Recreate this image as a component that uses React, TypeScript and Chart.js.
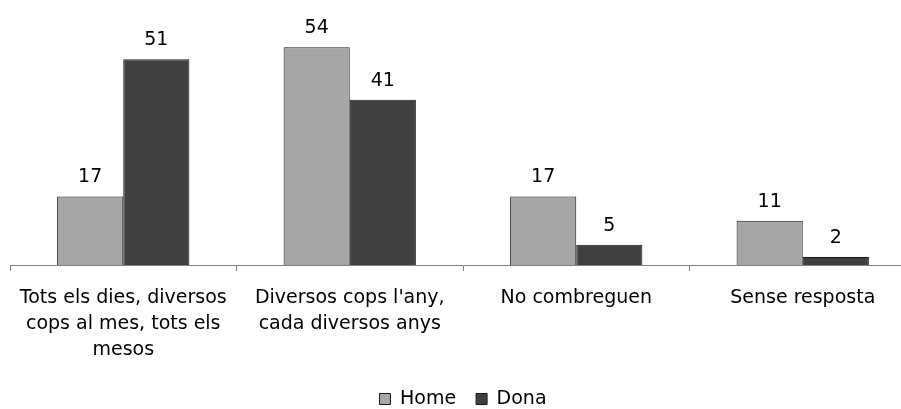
import React, { useEffect, useRef } from "react";
import { Chart, registerables } from "chart.js";

Chart.register(...registerables);

const categories: string[][] = [
  ["Tots els dies, diversos", "cops al mes, tots els", "mesos"],
  ["Diversos cops l'any,", "cada diversos anys"],
  ["No combreguen"],
  ["Sense resposta"],
];
const homeValues = [17, 54, 17, 11];
const donaValues = [51, 41, 5, 2];
const seriesNames = ["Home", "Dona"];

const FONT = "'DejaVu Sans', sans-serif";

const valueLabels = {
  id: "valueLabels",
  afterDatasetsDraw(chart: any) {
    const ctx = chart.ctx;
    ctx.save();
    ctx.font = `19px ${FONT}`;
    ctx.fillStyle = "#000";
    ctx.textAlign = "center";
    ctx.textBaseline = "alphabetic";
    chart.data.datasets.forEach((ds: any, i: number) => {
      const meta = chart.getDatasetMeta(i);
      meta.data.forEach((bar: any, j: number) => {
        ctx.fillText(String(ds.data[j]), bar.x, bar.y - 14);
      });
    });
    ctx.restore();
  },
};

export default function App() {
  const ref = useRef<HTMLCanvasElement | null>(null);
  useEffect(() => {
    if (!ref.current) return;
    const chart = new Chart(ref.current, {
      type: "bar",
      data: {
        labels: categories,
        datasets: [
          {
            label: seriesNames[0],
            data: homeValues,
            backgroundColor: "#a6a6a6",
            borderColor: "#1a1a1a",
            borderWidth: 1,
          },
          {
            label: seriesNames[1],
            data: donaValues,
            backgroundColor: "#404040",
            borderColor: "#1a1a1a",
            borderWidth: 1,
          },
        ],
      },
      options: {
        responsive: false,
        animation: false,
        layout: { padding: { left: 10, right: 10, top: 23, bottom: -9.5 } },
        datasets: {
          bar: { categoryPercentage: 0.584, barPercentage: 1 },
        },
        scales: {
          x: {
            grid: {
              drawOnChartArea: false,
              drawTicks: true,
              tickLength: 6,
              color: "#808080",
              offset: true,
            },
            border: { display: true, color: "#808080", width: 1 },
            ticks: {
              color: "#000",
              font: { family: FONT, size: 19, lineHeight: 1.37 },
              padding: 14,
              maxRotation: 0,
              autoSkip: false,
            },
            afterFit: (scale: any) => {
              scale.height = 104.5;
            },
          },
          y: {
            display: false,
            min: 0,
            max: 60,
          },
        },
        plugins: {
          legend: {
            position: "bottom",
            labels: {
              boxWidth: 11,
              boxHeight: 11,
              color: "#000",
              font: { family: FONT, size: 19 },
              padding: 20,
            },
          },
          tooltip: { enabled: false },
        },
      },
      plugins: [valueLabels],
    });
    return () => chart.destroy();
  }, []);
  return (
    <div
      style={{
        position: "fixed",
        left: 0,
        top: 0,
        width: 901,
        height: 409,
        overflow: "hidden",
        background: "#fff",
      }}
    >
      <canvas ref={ref} width={926} height={409} style={{ width: 926, height: 409, display: "block" }} />
    </div>
  );
}
